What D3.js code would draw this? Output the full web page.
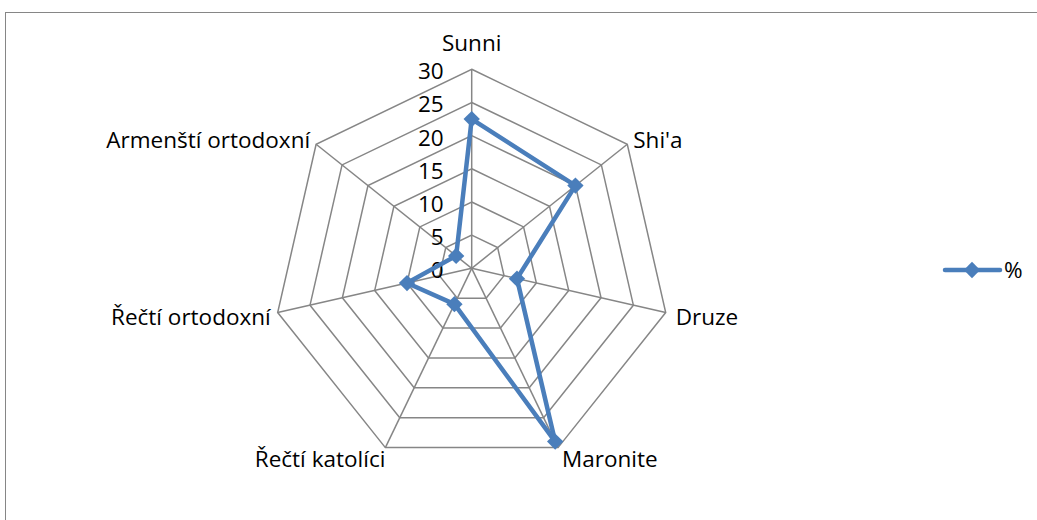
<!DOCTYPE html>
<html>
<head>
<meta charset="utf-8">
<script src="https://cdn.jsdelivr.net/npm/d3@7"></script>
<style>
  html, body { margin: 0; padding: 0; background: #fff; }
  svg { display: block; font-family: "Open Sans", "DejaVu Sans", sans-serif; }
</style>
</head>
<body>
<svg id="chart" width="1037" height="520"></svg>
<script>
// Religious groups and their share (%)
const categories = ["Sunni", "Shi'a", "Druze", "Maronite", "Řečtí katolíci", "Řečtí ortodoxní", "Armenští ortodoxní"];
const values = [22.5, 20, 7, 29, 6, 10, 3];
const tickValues = [0, 5, 10, 15, 20, 25, 30];
const seriesName = "%";

const svg = d3.select("#chart");
const W = 1037, H = 520;
const cx = 471.7, cy = 268.3, R = 199;
const gridColor = "#868686";
const seriesColor = "#4a7ebb";
const fontSize = 22.5;

// Chart frame
svg.append("rect")
  .attr("x", 5.5).attr("y", 12.5)
  .attr("width", W + 20).attr("height", H + 20)
  .attr("fill", "#fff").attr("stroke", gridColor).attr("stroke-width", 1);

const r = d3.scaleLinear().domain([0, 30]).range([0, R]);
const angle = d3.scalePoint().domain(categories).range([0, 2 * Math.PI * (categories.length - 1) / categories.length]);

const pt = (cat, v) => {
  const a = angle(cat);
  return [cx + r(v) * Math.sin(a), cy - r(v) * Math.cos(a)];
};

const g = svg.append("g");

// Rings
tickValues.filter(t => t > 0).forEach(t => {
  g.append("path")
    .attr("d", d3.line()(categories.map(c => pt(c, t))) + "Z")
    .attr("fill", "none").attr("stroke", gridColor).attr("stroke-width", 1.5);
});

// Spokes
categories.forEach(c => {
  const [x, y] = pt(c, 30);
  g.append("line")
    .attr("x1", cx).attr("y1", cy).attr("x2", x).attr("y2", y)
    .attr("stroke", gridColor).attr("stroke-width", 1.5);
});

// Radial tick labels
g.selectAll("text.tick").data(tickValues).join("text")
  .attr("class", "tick")
  .attr("x", cx - 28).attr("y", d => cy - r(d) + 2)
  .attr("dy", "0.35em")
  .attr("text-anchor", "end")
  .attr("font-size", fontSize).attr("fill", "#000")
  .text(d => d);

// Category labels
const labelPos = {
  "Sunni": { dx: 0, dy: -26, anchor: "middle" },
  "Shi'a": { dx: 6, dy: -4, anchor: "start" },
  "Druze": { dx: 10, dy: 5, anchor: "start" },
  "Maronite": { dx: 4, dy: 12, anchor: "start" },
  "Řečtí katolíci": { dx: 0, dy: 12, anchor: "end" },
  "Řečtí ortodoxní": { dx: -7, dy: 5, anchor: "end" },
  "Armenští ortodoxní": { dx: -6, dy: -4, anchor: "end" }
};
categories.forEach(c => {
  const [x, y] = pt(c, 30);
  const p = labelPos[c];
  g.append("text")
    .attr("x", x + p.dx).attr("y", y + p.dy)
    .attr("dy", "0.35em")
    .attr("text-anchor", p.anchor)
    .attr("font-size", fontSize).attr("fill", "#000")
    .text(c);
});

// Series line
const pts = categories.map((c, i) => pt(c, values[i]));
g.append("path")
  .attr("d", d3.line()(pts) + "Z")
  .attr("fill", "none").attr("stroke", seriesColor)
  .attr("stroke-width", 4.5).attr("stroke-linejoin", "round");

// Diamond markers
const diamond = d3.symbol().type(d3.symbolDiamond2).size(170);
g.selectAll("path.marker").data(pts).join("path")
  .attr("class", "marker")
  .attr("transform", d => `translate(${d[0]},${d[1]})`)
  .attr("d", diamond)
  .attr("fill", seriesColor);

// Legend
const lg = svg.append("g");
lg.append("line")
  .attr("x1", 945).attr("x2", 1000).attr("y1", 270).attr("y2", 270)
  .attr("stroke", seriesColor).attr("stroke-width", 4.5).attr("stroke-linecap", "round");
lg.append("path")
  .attr("transform", "translate(972,270)")
  .attr("d", diamond)
  .attr("fill", seriesColor);
lg.append("text")
  .attr("x", 1004).attr("y", 270).attr("dy", "0.35em")
  .attr("font-size", fontSize).attr("fill", "#000")
  .text(seriesName);
</script>
</body>
</html>
